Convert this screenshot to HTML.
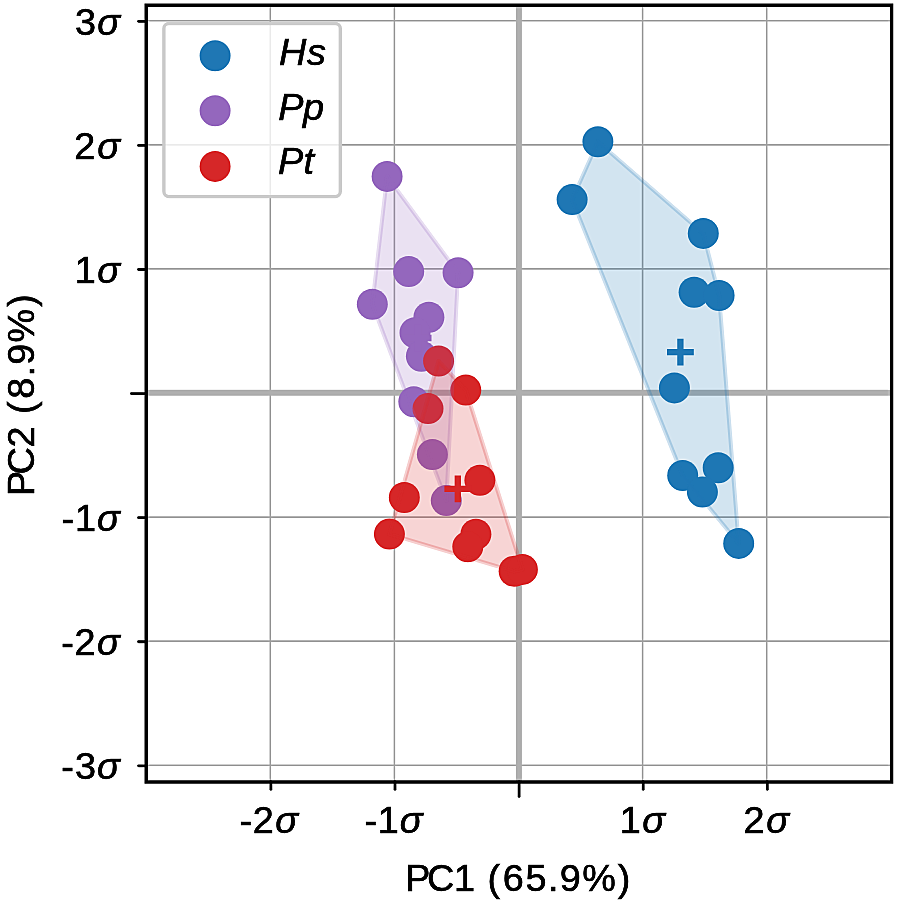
<!DOCTYPE html><html><head><meta charset="utf-8"><style>
html,body{margin:0;padding:0;background:#fff;width:899px;height:902px;overflow:hidden}
svg{display:block}
text{font-family:"Liberation Sans",sans-serif;fill:#000;stroke:#000;stroke-width:0.6px;font-kerning:none}
</style></head><body>
<svg width="899" height="902" viewBox="0 0 899 902">
<defs><filter id="sh" filterUnits="userSpaceOnUse" x="0" y="0" width="899" height="902" color-interpolation-filters="sRGB"><feGaussianBlur in="SourceGraphic" stdDeviation="1.0" result="b"/><feComposite in="SourceGraphic" in2="b" operator="arithmetic" k1="0" k2="1.6" k3="-0.6" k4="0"/></filter></defs>
<g filter="url(#sh)">
<rect width="899" height="902" fill="#fff"/>
<line x1="270.30" y1="5.20" x2="270.30" y2="782.00" stroke="#a8a8a8" stroke-width="1.6"/>
<line x1="394.40" y1="5.20" x2="394.40" y2="782.00" stroke="#a8a8a8" stroke-width="1.6"/>
<line x1="642.60" y1="5.20" x2="642.60" y2="782.00" stroke="#a8a8a8" stroke-width="1.6"/>
<line x1="766.70" y1="5.20" x2="766.70" y2="782.00" stroke="#a8a8a8" stroke-width="1.6"/>
<line x1="146.20" y1="765.24" x2="891.60" y2="765.24" stroke="#a8a8a8" stroke-width="1.6"/>
<line x1="146.20" y1="641.16" x2="891.60" y2="641.16" stroke="#a8a8a8" stroke-width="1.6"/>
<line x1="146.20" y1="517.08" x2="891.60" y2="517.08" stroke="#a8a8a8" stroke-width="1.6"/>
<line x1="146.20" y1="268.92" x2="891.60" y2="268.92" stroke="#a8a8a8" stroke-width="1.6"/>
<line x1="146.20" y1="144.84" x2="891.60" y2="144.84" stroke="#a8a8a8" stroke-width="1.6"/>
<line x1="146.20" y1="20.76" x2="891.60" y2="20.76" stroke="#a8a8a8" stroke-width="1.6"/>
<line x1="518.90" y1="5.20" x2="518.90" y2="782.00" stroke="#b0b0b0" stroke-width="6"/>
<line x1="146.20" y1="392.75" x2="891.60" y2="392.75" stroke="#b0b0b0" stroke-width="6"/>
<circle cx="597.9" cy="141.7" r="15.5" fill="#1f77b4"/>
<circle cx="572.1" cy="199.6" r="15.5" fill="#1f77b4"/>
<circle cx="703.3" cy="233.4" r="15.5" fill="#1f77b4"/>
<circle cx="694.1" cy="292.2" r="15.5" fill="#1f77b4"/>
<circle cx="719.1" cy="295.5" r="15.5" fill="#1f77b4"/>
<circle cx="674.4" cy="387.9" r="15.5" fill="#1f77b4"/>
<circle cx="682.7" cy="475.5" r="15.5" fill="#1f77b4"/>
<circle cx="718.2" cy="467.7" r="15.5" fill="#1f77b4"/>
<circle cx="702.4" cy="492.1" r="15.5" fill="#1f77b4"/>
<circle cx="738.7" cy="543.4" r="15.5" fill="#1f77b4"/>
<circle cx="387.1" cy="176.4" r="15.5" fill="#9467bd"/>
<circle cx="408.7" cy="271.6" r="15.5" fill="#9467bd"/>
<circle cx="458.1" cy="272.8" r="15.5" fill="#9467bd"/>
<circle cx="372.3" cy="304.3" r="15.5" fill="#9467bd"/>
<circle cx="428.9" cy="317.2" r="15.5" fill="#9467bd"/>
<circle cx="415.0" cy="332.7" r="15.5" fill="#9467bd"/>
<circle cx="421.4" cy="356.2" r="15.5" fill="#9467bd"/>
<circle cx="413.8" cy="401.8" r="15.5" fill="#9467bd"/>
<circle cx="432.4" cy="454.5" r="15.5" fill="#9467bd"/>
<circle cx="446.3" cy="500.6" r="15.5" fill="#9467bd"/>
<circle cx="438.6" cy="361.0" r="15.5" fill="#d62728"/>
<circle cx="465.8" cy="390.1" r="15.5" fill="#d62728"/>
<circle cx="428.0" cy="408.6" r="15.5" fill="#d62728"/>
<circle cx="404.3" cy="497.5" r="15.5" fill="#d62728"/>
<circle cx="479.9" cy="480.3" r="15.5" fill="#d62728"/>
<circle cx="389.4" cy="534.1" r="15.5" fill="#d62728"/>
<circle cx="475.9" cy="534.2" r="15.5" fill="#d62728"/>
<circle cx="467.8" cy="546.7" r="15.5" fill="#d62728"/>
<circle cx="514.1" cy="571.3" r="15.5" fill="#d62728"/>
<circle cx="522.4" cy="569.4" r="15.5" fill="#d62728"/>
<polygon points="572.1,199.6 597.9,141.7 703.3,233.4 719.1,295.5 738.7,543.4 682.7,475.5" fill="#1f77b4" fill-opacity="0.2" stroke="#1f77b4" stroke-opacity="0.22" stroke-width="4.0" stroke-linejoin="round"/>
<polygon points="372.3,304.3 387.1,176.4 458.1,272.8 446.3,500.6" fill="#9467bd" fill-opacity="0.2" stroke="#9467bd" stroke-opacity="0.22" stroke-width="4.0" stroke-linejoin="round"/>
<polygon points="389.4,534.1 438.6,361.0 465.8,390.1 522.4,569.4 514.1,571.3" fill="#d62728" fill-opacity="0.2" stroke="#d62728" stroke-opacity="0.22" stroke-width="4.0" stroke-linejoin="round"/>
<path d="M667.0,352.2H693.8M680.4,338.8V365.6" stroke="#1f77b4" stroke-width="6.3" fill="none"/>
<path d="M404.7,338.0H431.5M418.1,324.6V351.4" stroke="#9467bd" stroke-width="6.3" fill="none"/>
<path d="M444.4,488.9H471.2M457.8,475.5V502.3" stroke="#d62728" stroke-width="6.3" fill="none"/>
<rect x="146.20" y="5.20" width="745.40" height="776.80" fill="none" stroke="#000" stroke-width="3.4"/>
<line x1="138.60" y1="765.84" x2="146.20" y2="765.84" stroke="#000" stroke-width="2.8" stroke-linecap="round"/>
<line x1="138.60" y1="641.76" x2="146.20" y2="641.76" stroke="#000" stroke-width="2.8" stroke-linecap="round"/>
<line x1="138.60" y1="517.68" x2="146.20" y2="517.68" stroke="#000" stroke-width="2.8" stroke-linecap="round"/>
<line x1="138.60" y1="269.52" x2="146.20" y2="269.52" stroke="#000" stroke-width="2.8" stroke-linecap="round"/>
<line x1="138.60" y1="145.44" x2="146.20" y2="145.44" stroke="#000" stroke-width="2.8" stroke-linecap="round"/>
<line x1="138.60" y1="21.36" x2="146.20" y2="21.36" stroke="#000" stroke-width="2.8" stroke-linecap="round"/>
<line x1="131.40" y1="393.60" x2="146.20" y2="393.60" stroke="#000" stroke-width="2.8" stroke-linecap="round"/>
<line x1="270.90" y1="782.00" x2="270.90" y2="789.30" stroke="#000" stroke-width="2.8" stroke-linecap="round"/>
<line x1="395.00" y1="782.00" x2="395.00" y2="789.30" stroke="#000" stroke-width="2.8" stroke-linecap="round"/>
<line x1="643.20" y1="782.00" x2="643.20" y2="789.30" stroke="#000" stroke-width="2.8" stroke-linecap="round"/>
<line x1="767.30" y1="782.00" x2="767.30" y2="789.30" stroke="#000" stroke-width="2.8" stroke-linecap="round"/>
<line x1="519.10" y1="782.00" x2="519.10" y2="796.40" stroke="#000" stroke-width="2.8" stroke-linecap="round"/>
<text y="34.56" font-size="37.8"><tspan x="74.88">3</tspan><tspan x="97.30" font-style="italic">σ</tspan></text>
<text y="158.64" font-size="37.8"><tspan x="74.23">2</tspan><tspan x="97.13" font-style="italic">σ</tspan></text>
<text y="282.72" font-size="37.8"><tspan x="74.74">1</tspan><tspan x="97.20" font-style="italic">σ</tspan></text>
<text y="530.88" font-size="37.8"><tspan x="61.51">-</tspan><tspan x="74.93">1</tspan><tspan x="97.05" font-style="italic">σ</tspan></text>
<text y="654.96" font-size="37.8"><tspan x="61.24">-</tspan><tspan x="74.46">2</tspan><tspan x="96.99" font-style="italic">σ</tspan></text>
<text y="779.04" font-size="37.8"><tspan x="61.24">-</tspan><tspan x="74.99">3</tspan><tspan x="96.99" font-style="italic">σ</tspan></text>
<text y="833.30" font-size="37.8"><tspan x="239.55">-</tspan><tspan x="252.80">2</tspan><tspan x="275.37" font-style="italic">σ</tspan></text>
<text y="833.30" font-size="37.8"><tspan x="364.56">-</tspan><tspan x="377.79">1</tspan><tspan x="399.66" font-style="italic">σ</tspan></text>
<text y="833.30" font-size="37.8"><tspan x="619.78">1</tspan><tspan x="642.34" font-style="italic">σ</tspan></text>
<text y="833.30" font-size="37.8"><tspan x="743.54">2</tspan><tspan x="766.15" font-style="italic">σ</tspan></text>
<text y="891.30" font-size="37.8"><tspan x="405.31">P</tspan><tspan x="426.89">C</tspan><tspan x="454.05">1</tspan> <tspan x="487.43">(</tspan><tspan x="502.63">6</tspan><tspan x="525.39">5</tspan><tspan x="547.95">.</tspan><tspan x="559.76">9</tspan><tspan x="582.14">%</tspan><tspan x="617.73">)</tspan></text>
<g transform="translate(33.6,0) rotate(-90)"><text y="0.00" font-size="37.8"><tspan x="-495.91">P</tspan><tspan x="-474.39">C</tspan><tspan x="-447.57">2</tspan> <tspan x="-413.99">(</tspan><tspan x="-398.84">8</tspan><tspan x="-376.46">.</tspan><tspan x="-364.69">9</tspan><tspan x="-342.39">%</tspan><tspan x="-306.86">)</tspan></text></g>
<rect x="163.9" y="23.5" width="176.4" height="173.1" rx="5" ry="5" fill="#fff" fill-opacity="0.8" stroke="#cdcdcd" stroke-width="3.4"/>
<circle cx="215.1" cy="55.8" r="15.5" fill="#1f77b4"/>
<text y="64.80" font-size="37.8"><tspan x="279.09" font-style="italic">H</tspan><tspan x="306.91" font-style="italic">s</tspan></text>
<circle cx="215.1" cy="110.7" r="15.5" fill="#9467bd"/>
<text y="119.60" font-size="37.8"><tspan x="278.16" font-style="italic">P</tspan><tspan x="302.93" font-style="italic">p</tspan></text>
<circle cx="215.1" cy="166.4" r="15.5" fill="#d62728"/>
<text y="174.40" font-size="37.8"><tspan x="278.02" font-style="italic">P</tspan><tspan x="303.41" font-style="italic">t</tspan></text>
</g>
</svg></body></html>
